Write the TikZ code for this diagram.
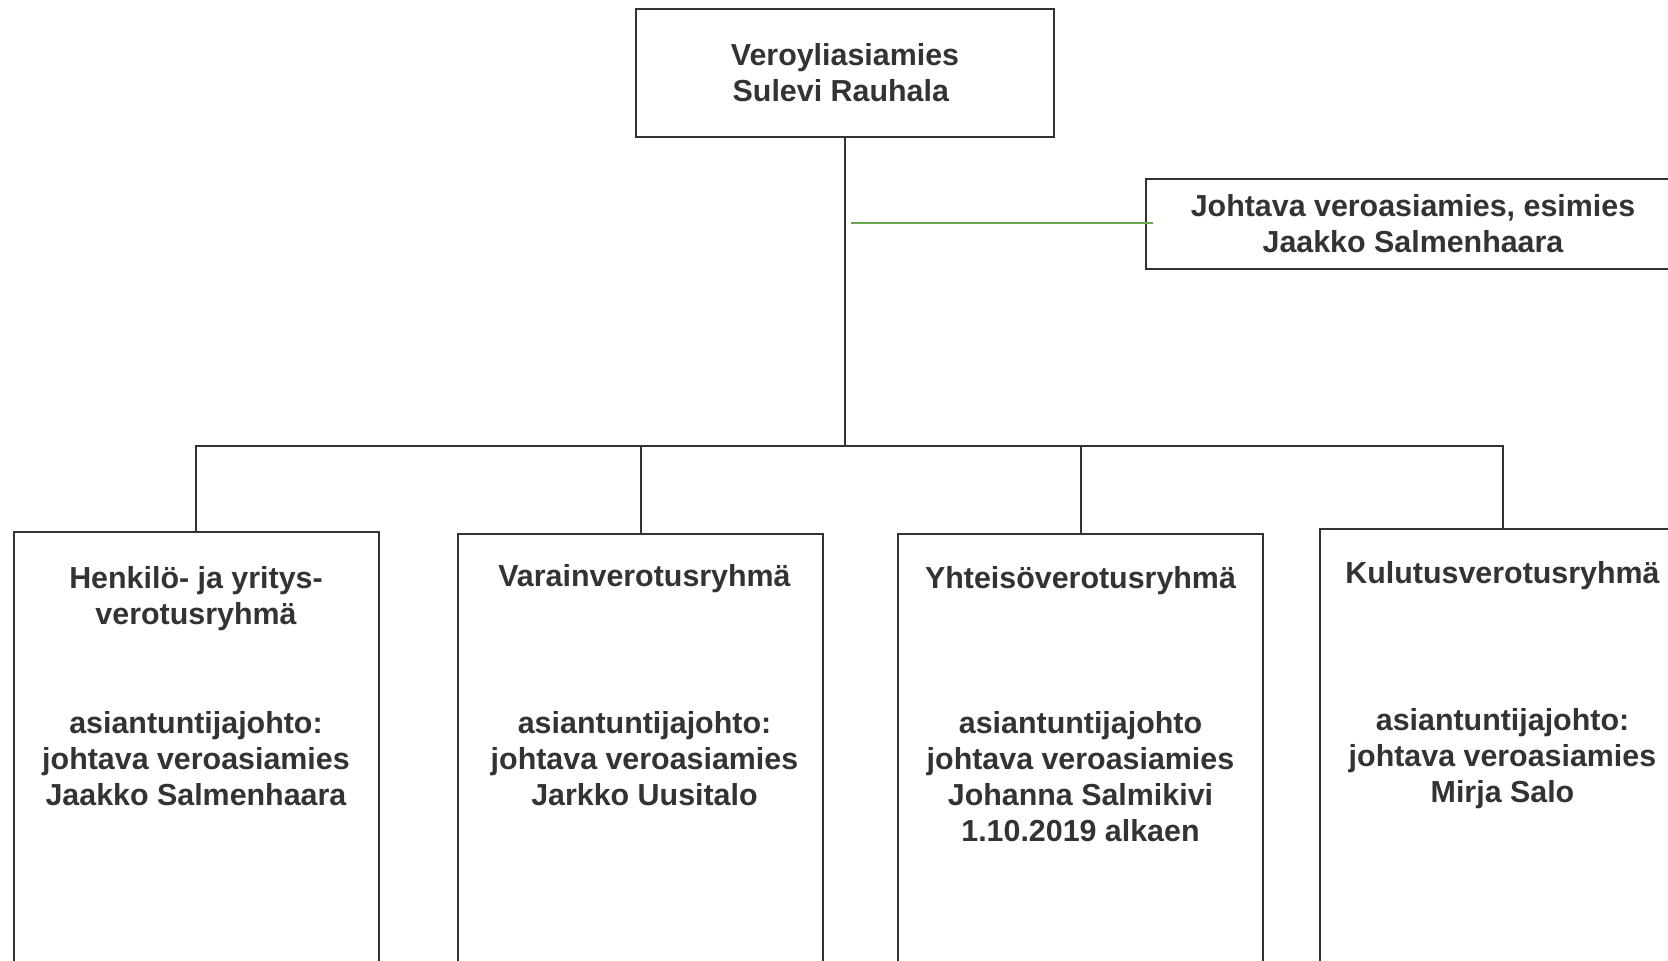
\documentclass[tikz,border=0pt]{standalone}
\usepackage{fontspec}
\setmainfont{Liberation Sans}
\usepackage{xcolor}
\definecolor{linegray}{HTML}{333333}
\definecolor{linkgreen}{HTML}{6AA84F}
\begin{document}
\begin{tikzpicture}[x=0.5pt,y=-0.5pt,line width=1pt,
		box/.style={draw=linegray,rectangle,inner sep=0pt},
		grp/.style={box,anchor=north,minimum width=182.5pt,minimum height=260pt},
		lbl/.style={text=linegray,font=\bfseries\fontsize{15.2}{18}\selectfont,align=center,inner sep=0pt}]
	\useasboundingbox (0,0) rectangle (1668,961);
	\fill[white] (0,0) rectangle (1668,961);
	\clip (0,0) rectangle (1668,961);
	\node[box,minimum width=209pt,minimum height=63.7pt] (vero) at (845,73) {};
	\node[lbl] at (vero.center) {Veroyliasiamies\\Sulevi Rauhala\kern4.2pt};
	\node[box,minimum width=267pt,minimum height=45pt] (johtava) at (1413,224) {};
	\node[lbl] at (johtava.center) {Johtava veroasiamies, esimies\\Jaakko Salmenhaara};
	\node[grp] (g1) at (196,531) {};
	\node[grp] (g2) at (640.5,533) {};
	\node[grp] (g3) at (1080.5,533) {};
	\node[grp] (g4) at (1502.5,528) {};
	\node[lbl] (t1) at (196,599) {Henkilö- ja yritys-\\verotusryhmä};
	\node[lbl] (b1) at (196,758.5) {asiantuntijajohto:\\johtava veroasiamies\\Jaakko Salmenhaara};
	\node[lbl] (t2) at (644.5,579) {Varainverotusryhmä};
	\node[lbl] (b2) at (644.5,758.5) {asiantuntijajohto:\\johtava veroasiamies\\Jarkko Uusitalo};
	\node[lbl] (t3) at (1080.5,581) {Yhteisöverotusryhmä};
	\node[lbl] (b3) at (1080.5,776.5) {asiantuntijajohto\\johtava veroasiamies\\Johanna Salmikivi\\1.10.2019 alkaen};
	\node[lbl] (t4) at (1502.5,576) {Kulutusverotusryhmä};
	\node[lbl] (b4) at (1502.5,759) {asiantuntijajohto:\\johtava veroasiamies\\Mirja Salo};
	\coordinate (bar) at (845,446);
	\coordinate (gl) at (851,223.4);
	\draw[linegray] (vero.south) -- (bar);
	\draw[linegray] (g1.north) |- (bar) -| (g4.north);
	\draw[linegray] (g2.north) -- (g2.north |- bar);
	\draw[linegray] (g3.north) -- (g3.north |- bar);
	\draw[linkgreen] (gl) -- ([xshift=4pt]johtava.west |- gl);
\end{tikzpicture}
\end{document}
